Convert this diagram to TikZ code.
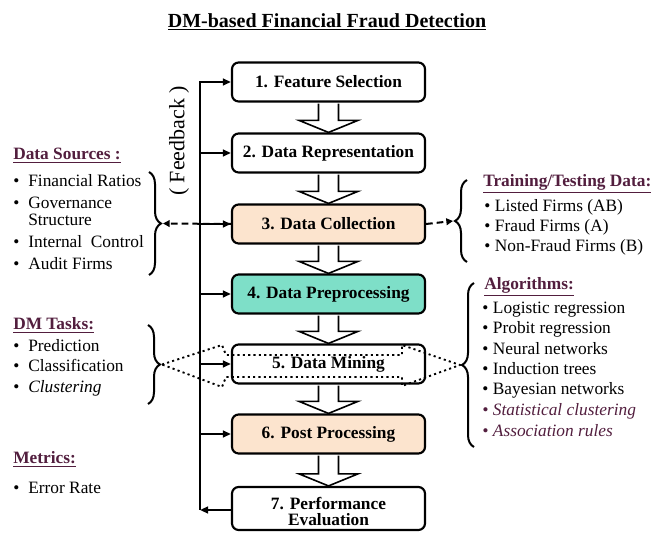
\documentclass[tikz,border=0pt]{standalone}
\usepackage{fontspec}
\setmainfont{Liberation Serif}
\usetikzlibrary{decorations.pathreplacing,arrows.meta,calc}
\definecolor{peach}{RGB}{252,228,206}
\definecolor{mint}{RGB}{126,223,200}
\definecolor{plum}{RGB}{82,30,62}

\begin{document}
\begin{tikzpicture}[x=0.75pt,y=-0.75pt,
  stage/.style={draw,line width=1.6pt,rounded corners=5pt,fill=white,
    minimum width=144.75pt,minimum height=29.25pt,inner sep=1pt,align=center,
    font=\fontsize{13}{11.5}\selectfont\bfseries},
  stagetext/.style={inner sep=0pt,align=center,font=\fontsize{13}{12}\selectfont\bfseries},
  flow/.style={draw,line width=1.2pt,fill=white,line join=miter},
  fb/.style={line width=1.5pt,-{Triangle[length=6pt,width=5pt]}},
  link/.style={line width=1.5pt,dash pattern=on 5pt off 3pt,-{Triangle[length=5pt,width=5pt]}},
  curly/.style={line width=1.5pt,decorate,decoration={brace,amplitude=9pt}},
  heading/.style={anchor=base west,inner sep=0pt,text=plum,font=\fontsize{13}{15}\selectfont\bfseries},
  item/.style={anchor=base west,inner sep=0pt,font=\fontsize{13}{15}\selectfont},
  hint/.style={anchor=base west,inner sep=0pt,text=plum,font=\fontsize{13}{15}\selectfont\itshape}]
\useasboundingbox (0,0) rectangle (654,534);

% title
\node[font=\fontsize{15}{18}\selectfont\bfseries] (title) at (327,22)
  {\underline{DM-based Financial Fraud Detection}};

% process stages
\node[stage] (b1) at (328.5,82) {1. Feature Selection};
\node[stage] (b2) at (328.5,153) {2. Data Representation};
\node[stage,fill=peach] (b3) at (328.5,224) {3. Data Collection};
\node[stage,fill=mint] (b4) at (328.5,294) {4. Data Preprocessing};
\node[stage] (b5) at (328.5,364) {5. Data Mining};
\node[stage,fill=peach] (b6) at (328.5,434) {6. Post Processing};
\node[stage,minimum height=32.25pt] (b7) at (328.5,508.5) {};
\node[stagetext] (b7t) at ($(b7.center)+(0,3)$) {7. Performance\\Evaluation};

% block arrows between stages
\foreach \a/\b in {b1/b2,b2/b3,b3/b4,b4/b5,b5/b6,b6/b7}
  \draw[flow] let \p1=(\a.south), \p2=(\b.north) in
    (\x1-7.5pt,\y1-0.8pt) -- (\x1-7.5pt,\y2+9pt) -- (\x1-22pt,\y2+9pt) -- (\x1,\y2)
    -- (\x1+22pt,\y2+9pt) -- (\x1+7.5pt,\y2+9pt) -- (\x1+7.5pt,\y1-0.8pt);

% feedback loop
\coordinate (fbBot) at (200,510);
\draw[fb] (b7.west |- fbBot) -- (fbBot);
\draw[fb] (fbBot) |- (b1.west);
\foreach \b in {b2,b3,b4,b5,b6}
  \draw[fb] (fbBot |- \b.west) -- (\b.west);
\node[rotate=90,font=\fontsize{16.5}{18}\selectfont] (fbtext) at (179,141) {( Feedback )};

% braces
\coordinate (dsTop) at (149,172);  \coordinate (dsBot) at (149,275);
\coordinate (dsTip) at (163,223.5);
\draw[curly] (dsTop) -- (dsBot);
\coordinate (tdTop) at (467,180);  \coordinate (tdBot) at (467,262);
\coordinate (tdTip) at (453,221);
\draw[curly] (tdBot) -- (tdTop);
\coordinate (dmTop) at (148,325);  \coordinate (dmBot) at (148,404);
\coordinate (dmL) at (162,364.5);
\draw[curly] (dmTop) -- (dmBot);
\coordinate (alTop) at (474,283);  \coordinate (alBot) at (474,447);
\coordinate (dmR) at (460,365);
\draw[curly] (alBot) -- (alTop);

% data links of stage 3
\draw[link] (b3.west) -- (dsTip);
\draw[link] (b3.east) -- (tdTip);

% dotted double arrow through stage 5
\draw[line width=1.4pt,dash pattern=on 1.6pt off 2.4pt,line join=miter]
  (dmL) -- (222,345) -- (226,355) -- (402,355) -- (402,345) -- (dmR)
  -- (402,386) -- (402,377) -- (226,377) -- (222,387) -- cycle;

% left column
\node[heading] (hds) at (13,160) {\underline{Data Sources :}};
\node[item] (ds1) at (13,187) {\makebox[11.3pt][l]{•}Financial Ratios};
\node[item] (ds2) at (13,209) {\makebox[11.3pt][l]{•}Governance};
\node[item] (ds2b) at (28,226) {Structure};
\node[item] (ds3) at (13,248) {\makebox[11.3pt][l]{•}Internal\ \ Control};
\node[item] (ds4) at (13,270) {\makebox[11.3pt][l]{•}Audit Firms};

\node[heading] (hdm) at (13,330) {\underline{DM Tasks:}};
\node[item] (dm1) at (13,352) {\makebox[11.3pt][l]{•}Prediction};
\node[item] (dm2) at (13,372) {\makebox[11.3pt][l]{•}Classification};
\node[item] (dm3) at (13,393) {\makebox[11.3pt][l]{•}\textit{Clustering}};

\node[heading] (hme) at (13,464) {\underline{Metrics:}};
\node[item] (me1) at (13,494) {\makebox[11.3pt][l]{•}Error Rate};

% right column
\node[heading] (htd) at (483,187) {\underline{Training/Testing Data:}};
\node[item] (td1) at (484,212) {\makebox[8pt][l]{•}Listed Firms (AB)};
\node[item] (td2) at (484,232) {\makebox[8pt][l]{•}Fraud Firms (A)};
\node[item] (td3) at (484,252) {\makebox[8pt][l]{•}Non-Fraud Firms (B)};

\node[heading] (hal) at (484,290) {\underline{Algorithms:}};
\node[item] (al1) at (482,314) {\makebox[8pt][l]{•}Logistic regression};
\node[item] (al2) at (482,334) {\makebox[8pt][l]{•}Probit regression};
\node[item] (al3) at (482,355) {\makebox[8pt][l]{•}Neural networks};
\node[item] (al4) at (482,375) {\makebox[8pt][l]{•}Induction trees};
\node[item] (al5) at (482,395) {\makebox[8pt][l]{•}Bayesian networks};
\node[hint] (al6) at (482,416) {\makebox[8pt][l]{•}Statistical clustering};
\node[hint] (al7) at (482,437) {\makebox[8pt][l]{•}Association rules};
\end{tikzpicture}
\end{document}
